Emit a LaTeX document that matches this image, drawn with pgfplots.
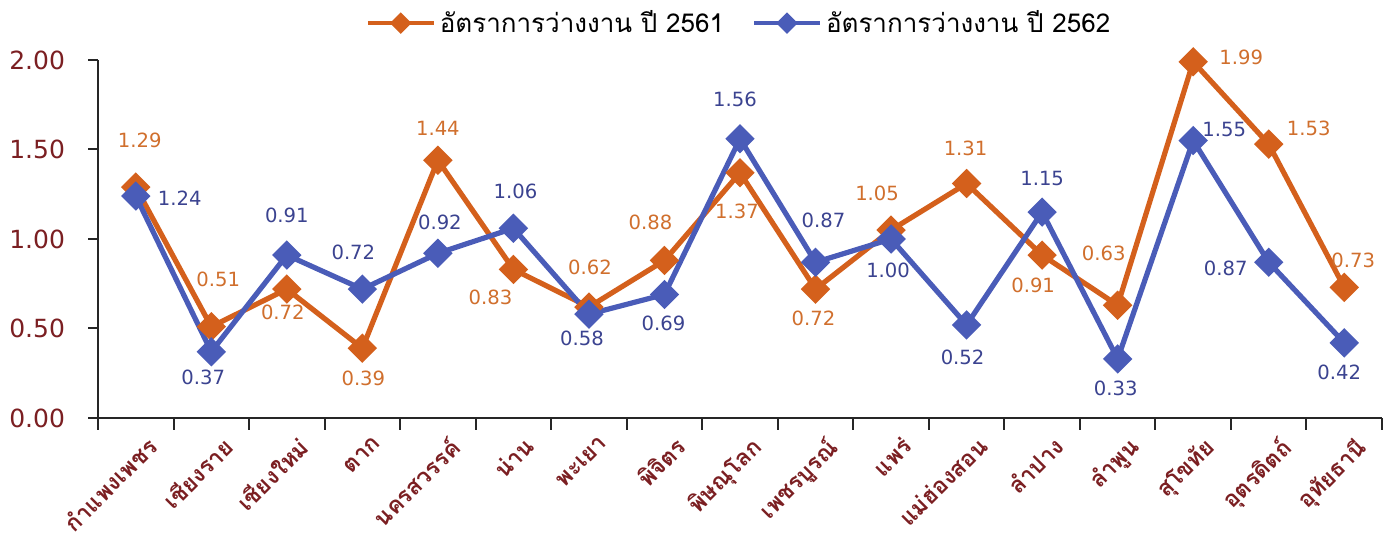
\documentclass[border=0pt]{standalone}
\usepackage{pgfplots}
\pgfplotsset{compat=1.18}
\usepackage{pgfplotstable}
\usepackage{fontspec}
\setmainfont{DejaVu Sans}
\newfontfamily\thaifont[Script=Thai]{Loma}
\usetikzlibrary{calc}

\definecolor{orgline}{HTML}{D4601C}
\definecolor{bluline}{HTML}{4A5CB8}
\definecolor{orgtext}{HTML}{D06F2D}
\definecolor{blutext}{HTML}{3B4390}
\definecolor{tickred}{HTML}{7B1F22}

% x value, label offsets dx dy in pt
\pgfplotstableread{
x y dx dy
1 1.29 2 23.5
2 0.51 3.5 23.5
3 0.72 -2 -11.5
4 0.39 0.5 -15
5 1.44 0 16
6 0.83 -11.5 -14
7 0.62 0.5 20
8 0.88 -7 19
9 1.37 -1.5 -19.5
10 0.72 -1 -14.5
11 1.05 -7 18.5
12 1.31 -0.5 17.5
13 0.91 -4.5 -15
14 0.63 -7 26
15 1.99 24 2
16 1.53 20 8
17 0.73 4.5 13.5
}\yrA

\pgfplotstableread{
x y dx dy
1 1.24 22 -1
2 0.37 -4 -13
3 0.91 0 20
4 0.72 -4.5 18.5
5 0.92 1 15.5
6 1.06 1 18.5
7 0.58 -3.5 -12
8 0.69 -0.5 -14.5
9 1.56 -2.5 19.5
10 0.87 4 21
11 1.00 -1.5 -15.5
12 0.52 -2 -16
13 1.15 0 17
14 0.33 -1 -14.5
15 1.55 15.5 5.5
16 0.87 -21.5 -3
17 0.42 -2.5 -15
}\yrB

\begin{document}
\begin{tikzpicture}
\begin{axis}[
    scale only axis,
    width=642pt, height=179pt,
    xmin=0.5, xmax=17.5,
    ymin=0, ymax=2,
    axis lines=left,
    axis line style={-, line width=1pt, black!85},
    tick align=outside,
    major tick length=5pt,
    minor tick length=6pt,
    tick style={line width=1pt, black!85},
    major x tick style={draw=none},
    xtick={1,...,17},
    minor xtick={0.5,1.5,...,17.5},
    xticklabels={กำแพงเพชร,เชียงราย,เชียงใหม่,ตาก,นครสวรรค์,น่าน,พะเยา,พิจิตร,พิษณุโลก,เพชรบูรณ์,แพร่,แม่ฮ่องสอน,ลำปาง,ลำพูน,สุโขทัย,อุตรดิตถ์,อุทัยธานี},
    xticklabel style={font=\thaifont\bfseries\fontsize{11.5}{13}\selectfont, text=tickred,
        rotate=45, anchor=north east, inner sep=1pt, xshift=2pt, yshift=-5pt},
    ytick={0,0.5,1,1.5,2},
    yticklabel style={font=\fontsize{12.5}{14}\selectfont, text=tickred, xshift=-8pt,
        /pgf/number format/.cd, fixed, fixed zerofill, precision=2},
    /pgf/number format/assume math mode=true,
    legend style={draw=none, fill=none, at={(0.5,1)}, anchor=south, yshift=8pt,
        font=\thaifont\fontsize{13}{15}\selectfont, legend columns=2,
        /tikz/every even column/.append style={column sep=12pt}},
    legend image code/.code={
        \draw[mark repeat=2, mark phase=2, line width=2pt, mark size=2.8pt]
            plot coordinates {(0cm,0cm) (0.58cm,0cm) (1.16cm,0cm)};
    },
    clip=false,
    visualization depends on={\thisrow{dx}\as\lx},
    visualization depends on={\thisrow{dy}\as\ly},
    nodes near coords={\pgfmathprintnumber[fixed, fixed zerofill, precision=2]{\pgfplotspointmeta}},
    every node near coord/.append style={anchor=center, xshift=\lx pt, yshift=\ly pt,
        font=\fontsize{9.8}{11}\selectfont},
]
\addplot[orgline, line width=2.6pt, mark=square*, mark size=3.9pt,
    mark options={rotate=45, solid}, point meta=explicit,
    every node near coord/.append style={text=orgtext}]
    table[x=x, y=y, meta=y] {\yrA};
\addlegendentry{อัตราการว่างงาน ปี 2561}
\addplot[bluline, line width=2.6pt, mark=square*, mark size=3.9pt,
    mark options={rotate=45, solid}, point meta=explicit,
    every node near coord/.append style={text=blutext}]
    table[x=x, y=y, meta=y] {\yrB};
\addlegendentry{อัตราการว่างงาน ปี 2562}
\coordinate (bl) at (rel axis cs:0,0);
\coordinate (tr) at (rel axis cs:1,1);
\end{axis}
\pgfresetboundingbox
\path[use as bounding box] ($(bl)+(-49pt,-65pt)$) rectangle ($(tr)+(6pt,30pt)$);
\end{tikzpicture}
\end{document}
